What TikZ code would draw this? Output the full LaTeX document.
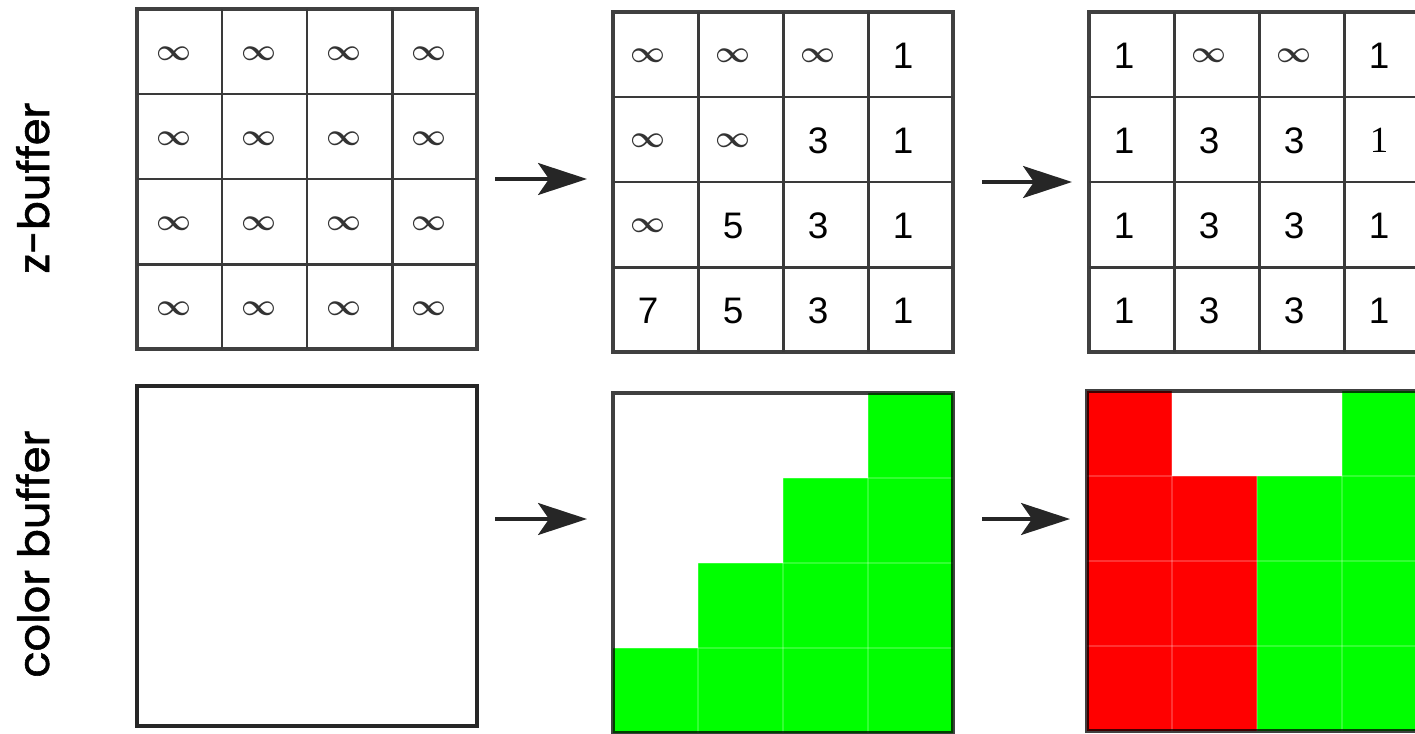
\documentclass[tikz,border=0pt]{standalone}
\usepackage{fontspec}
\setmainfont{Liberation Sans}
\newfontfamily\captionfont[FakeBold=1.3]{Poppins}
\newfontfamily\romanfont{Liberation Serif}
\usetikzlibrary{arrows.meta}

\definecolor{gridgray}{HTML}{3A3A3A}
\definecolor{pixgreen}{HTML}{00FF00}
\definecolor{pixred}{HTML}{FF0000}

% cell entries
\newcommand{\zinf}{{\fontsize{17}{17}\selectfont\boldmath\color{black!80}$\infty$}}
\newcommand{\oddone}{{\romanfont 1}}

\begin{document}
\begin{tikzpicture}[x=1cm, y=-1cm,
    buffer/.style={draw=black, draw opacity=0.75, line width=2pt,
      minimum size=6.8cm, inner sep=0pt, outer sep=0pt, anchor=north west},
    cellline/.style={gridgray, line width=1.7pt},
    pixline/.style={white, opacity=0.2, line width=1pt},
    depth/.style={font=\fontsize{21}{21}\selectfont, inner sep=0pt},
    flow/.style={-{Stealth[length=0.98cm, width=0.64cm, inset=0.22cm]},
      line width=1.8pt, black!85},
    rowlabel/.style={font=\captionfont\fontsize{24.5}{24.5}\selectfont,
      rotate=90, anchor=base}]

    % --- Canvas: the right-hand buffers run past the edge ---
    \useasboundingbox (0,0) rectangle (28.3,14.66);
    \clip (0,0) rectangle (28.3,14.66);

    % --- Row labels ---
    \node[rowlabel] (zlabel) at (0.98,3.76) {z-buffer};
    \node[rowlabel] (clabel) at (0.98,11.08) {color buffer};

    % --- Color buffers (pixels, then faint pixel lines) ---
    % after the green polygon
    \begin{scope}[shift={(12.26,7.86)}]
        \fill[pixgreen] (5.1,0) -- (6.8,0) -- (6.8,6.8) -- (0,6.8) -- (0,5.1)
            -- (1.7,5.1) -- (1.7,3.4) -- (3.4,3.4) -- (3.4,1.7) -- (5.1,1.7) -- cycle;
        \foreach \k in {1.7,3.4,5.1} {
            \draw[pixline] (\k,0) -- (\k,6.8);
            \draw[pixline] (0,\k) -- (6.8,\k);
        }
    \end{scope}
    % after the red polygon in front
    \begin{scope}[shift={(21.74,7.82)}]
        \fill[pixred] (0,0) rectangle (1.7,6.8);
        \fill[pixred] (1.7,1.7) rectangle (3.4,6.8);
        \fill[pixgreen] (5.1,0) rectangle (6.8,1.7);
        \fill[pixgreen] (3.4,1.7) rectangle (6.8,6.8);
        \foreach \k in {1.7,3.4,5.1} {
            \draw[pixline] (\k,0) -- (\k,6.8);
            \draw[pixline] (0,\k) -- (6.8,\k);
        }
    \end{scope}

    % --- Buffer frames ---
    \node[buffer] (z1) at (2.74,0.18) {};
    \node[buffer] (z2) at (12.26,0.24) {};
    \node[buffer] (z3) at (21.78,0.24) {};
    \node[buffer, draw opacity=0.85] (c1) at (2.74,7.72) {};
    \node[buffer] (c2) at (12.26,7.86) {};
    \node[buffer] (c3) at (21.74,7.82) {};

    % --- Depth values ---
    % cleared buffer
    \begin{scope}[shift={(2.74,0.18)}]
        \foreach \k in {1.7,3.4,5.1} {
            \draw[cellline] (\k,0) -- (\k,6.8);
            \draw[cellline] (0,\k) -- (6.8,\k);
        }
        \foreach \r in {0,...,3}
            \foreach \c in {0,...,3}
                \node[depth] (z1-\r-\c) at (\c*1.7+0.74,\r*1.7+0.9) {\zinf};
    \end{scope}

    % first triangle written
    \begin{scope}[shift={(12.26,0.24)}]
        \foreach \k in {1.7,3.4,5.1} {
            \draw[cellline] (\k,0) -- (\k,6.8);
            \draw[cellline] (0,\k) -- (6.8,\k);
        }
        \foreach \row [count=\r from 0] in {{\zinf,\zinf,\zinf,1},{\zinf,\zinf,3,1},
                                            {\zinf,5,3,1},{7,5,3,1}}
            \foreach \v [count=\c from 0] in \row
                \node[depth] (z2-\r-\c) at (\c*1.7+0.7,\r*1.7+0.87) {\v};
    \end{scope}

    % second triangle written
    \begin{scope}[shift={(21.78,0.24)}]
        \foreach \k in {1.7,3.4,5.1} {
            \draw[cellline] (\k,0) -- (\k,6.8);
            \draw[cellline] (0,\k) -- (6.8,\k);
        }
        \foreach \row [count=\r from 0] in {{1,\zinf,\zinf,1},{1,3,3,\oddone},
                                            {1,3,3,1},{1,3,3,1}}
            \foreach \v [count=\c from 0] in \row
                \node[depth] (z3-\r-\c) at (\c*1.7+0.7,\r*1.7+0.87) {\v};
    \end{scope}

    % --- Update steps ---
    \draw[flow, shorten <=0.36cm, shorten >=0.52cm] (z1.east) -- (z1.east -| z2.west);
    \draw[flow, shorten <=0.58cm, shorten >=0.34cm] (z2.east) -- (z2.east -| z3.west);
    \draw[flow, shorten <=0.36cm, shorten >=0.52cm]
        ([yshift=0.74cm]c1.east) -- ([yshift=0.74cm]c1.east -| c2.west);
    \draw[flow, shorten <=0.58cm, shorten >=0.34cm]
        ([yshift=0.88cm]c2.east) -- ([yshift=0.88cm]c2.east -| c3.west);

\end{tikzpicture}
\end{document}
